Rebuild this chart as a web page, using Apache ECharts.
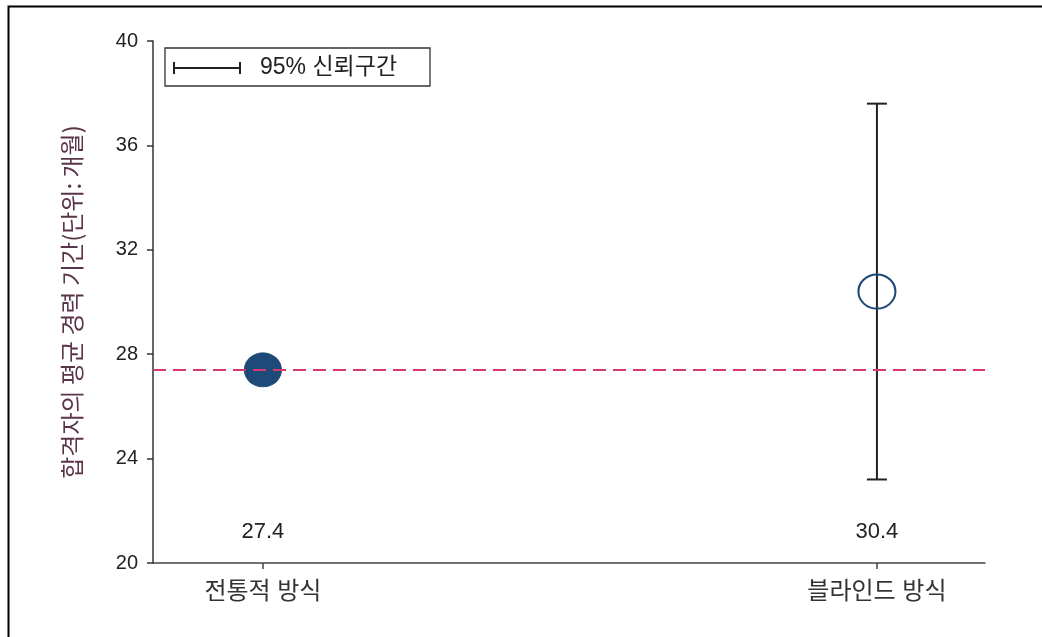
<!DOCTYPE html>
<html>
<head>
<meta charset="utf-8">
<script src="https://cdn.jsdelivr.net/npm/echarts@6/dist/echarts.min.js"></script>
<style>
html,body{margin:0;padding:0;background:#fff;}
#c{width:1042px;height:637px;}
</style>
</head>
<body>
<div id="c"></div>
<script>
const categories = ['전통적 방식', '블라인드 방식'];
const means = [27.4, 30.4];
const ciLow = [null, 23.2];
const ciHigh = [null, 37.6];
const yTicks = [20, 24, 28, 32, 36, 40];
const referenceLine = 27.4;
const legendText = '95% 신뢰구간';
const yTitle = '합격자의 평균 경력 기간(단위: 개월)';

const FONT = '"Liberation Sans", Arial, "Noto Sans CJK KR", sans-serif';
const navy = '#1d4a78';

const chart = echarts.init(document.getElementById('c'), null, {renderer: 'canvas'});

const xPos = categories.map((c, i) => i + 1);

const option = {
  backgroundColor: '#fff',
  animation: false,
  grid: {left: 153, right: 57, top: 41, bottom: 74, containLabel: false},
  xAxis: {
    type: 'value',
    min: 0.821,
    max: 2.176,
    splitLine: {show: false},
    axisLine: {show: true, onZero: false, lineStyle: {color: '#444', width: 1.5}},
    axisTick: {show: true, customValues: xPos, length: 6, lineStyle: {color: '#444', width: 1.5}},
    axisLabel: {
      show: true, customValues: xPos, margin: 17,
      formatter: v => categories[Math.round(v) - 1] || '',
      fontSize: 24, color: '#333', fontFamily: FONT
    }
  },
  yAxis: {
    type: 'value',
    min: yTicks[0],
    max: yTicks[yTicks.length - 1],
    interval: 4,
    splitLine: {show: false},
    axisLine: {show: true, lineStyle: {color: '#333', width: 1.5}},
    axisTick: {show: true, length: 6, lineStyle: {color: '#333', width: 1.5}},
    axisLabel: {fontSize: 20, color: '#222', margin: 15, fontFamily: FONT},
    name: yTitle,
    nameLocation: 'middle',
    nameGap: 69,
    nameRotate: 90,
    nameTextStyle: {fontSize: 24, color: '#5a3448', fontFamily: '"Noto Sans CJK KR", sans-serif'}
  },
  series: [
    {
      type: 'custom',
      name: 'ci',
      z: 3,
      data: xPos.map((x, i) => [x, ciLow[i], ciHigh[i]]).filter(d => d[1] != null),
      renderItem: function (params, api) {
        const x = api.value(0);
        const lo = api.coord([x, api.value(1)]);
        const hi = api.coord([x, api.value(2)]);
        const hw = 10;
        const st = {stroke: '#222', lineWidth: 2, fill: null};
        return {
          type: 'group',
          children: [
            {type: 'line', shape: {x1: hi[0], y1: hi[1], x2: lo[0], y2: lo[1]}, style: st},
            {type: 'line', shape: {x1: hi[0] - hw, y1: hi[1], x2: hi[0] + hw, y2: hi[1]}, style: st},
            {type: 'line', shape: {x1: lo[0] - hw, y1: lo[1], x2: lo[0] + hw, y2: lo[1]}, style: st}
          ]
        };
      }
    },
    {
      type: 'scatter',
      name: 'means',
      z: 4,
      symbol: 'circle',
      symbolSize: [37, 34],
      itemStyle: {opacity: 1},
      data: xPos.map((x, i) => ({
        value: [x, means[i]],
        itemStyle: i === 0
          ? {color: navy, borderColor: navy, borderWidth: 1, opacity: 1}
          : {color: 'rgba(255,255,255,0)', borderColor: navy, borderWidth: 2, opacity: 1}
      })),
      markLine: {
        silent: true,
        symbol: ['none', 'none'],
        label: {show: false},
        lineStyle: {color: '#d63a6c', width: 2, type: [13, 7], opacity: 1},
        data: [{yAxis: referenceLine}]
      }
    },
    {
      type: 'scatter',
      name: 'valueLabels',
      symbolSize: 0,
      z: 5,
      itemStyle: {opacity: 1},
      data: xPos.map((x, i) => [x, 21.2, means[i]]),
      label: {
        show: true, position: 'inside',
        formatter: p => p.value[2].toFixed(1),
        fontSize: 22, color: '#222', opacity: 1, fontFamily: FONT
      }
    }
  ],
  graphic: [
    {type: 'rect', left: 6, top: 4, shape: {x: 0, y: 0, width: 1100, height: 700},
      style: {fill: null, stroke: '#000', lineWidth: 2}, z: 100, silent: true},
    {type: 'rect', shape: {x: 165, y: 48, width: 265, height: 38},
      style: {fill: '#fff', stroke: '#333', lineWidth: 1.3}, z: 50},
    {type: 'line', shape: {x1: 174, y1: 68, x2: 240, y2: 68}, style: {stroke: '#222', lineWidth: 2}, z: 51},
    {type: 'line', shape: {x1: 174, y1: 62, x2: 174, y2: 74}, style: {stroke: '#222', lineWidth: 2}, z: 51},
    {type: 'line', shape: {x1: 240, y1: 62, x2: 240, y2: 74}, style: {stroke: '#222', lineWidth: 2}, z: 51},
    {type: 'text', x: 260, y: 68, z: 51,
      style: {text: legendText, fontSize: 23, fill: '#222', verticalAlign: 'middle', fontFamily: FONT}}
  ]
};
chart.setOption(option);
</script>
</body>
</html>
